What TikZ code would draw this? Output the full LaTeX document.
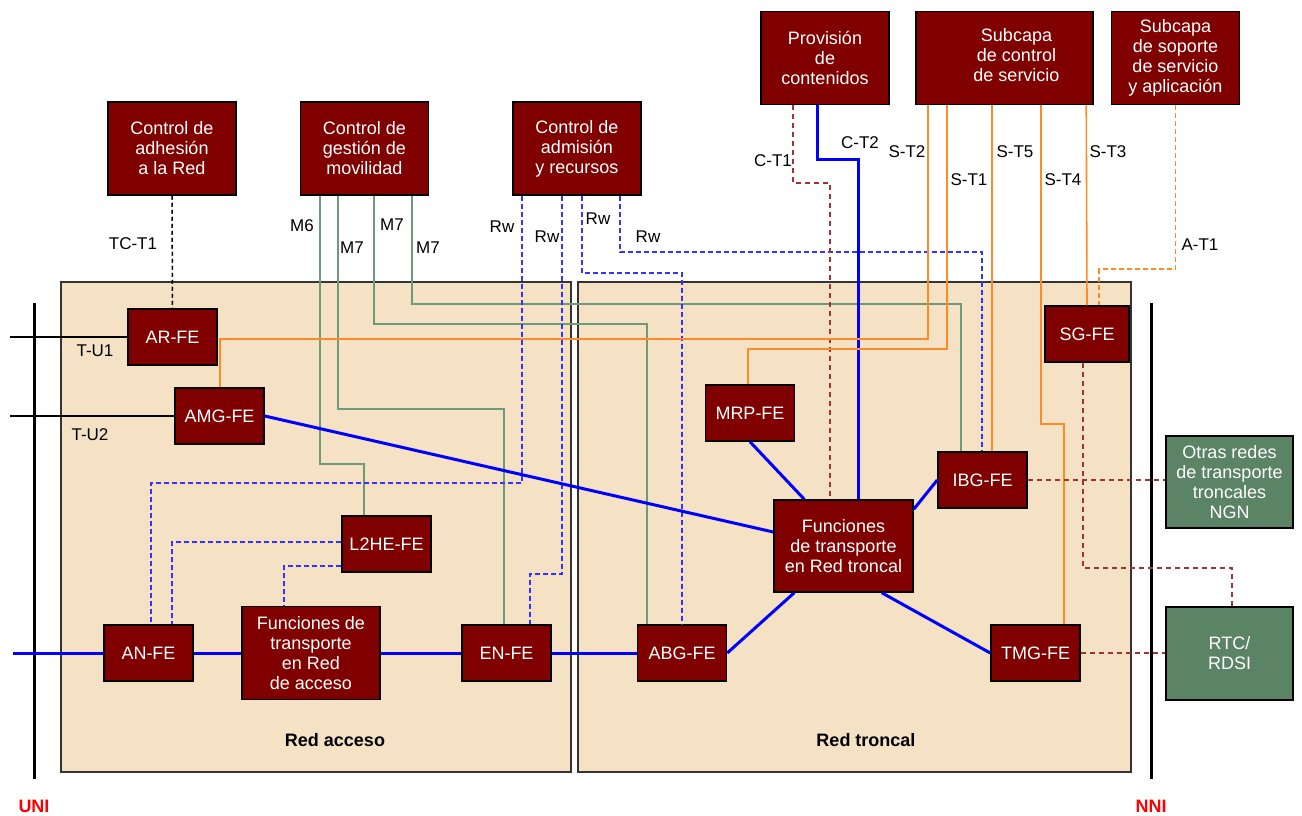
\documentclass[tikz,border=0pt]{standalone}
\usepackage{fontspec}
\setmainfont{Liberation Sans}

\definecolor{maroonbox}{HTML}{800000}
\definecolor{tanbg}{HTML}{F5E1C3}
\definecolor{greenbox}{HTML}{5B8467}
\definecolor{greenline}{HTML}{6F9A7A}
\definecolor{orangeline}{HTML}{FF8A2A}
\definecolor{bluedash}{HTML}{3333FF}
\definecolor{reddash}{HTML}{A03333}

\begin{document}
\begin{tikzpicture}[x=1pt, y=-1pt,
	fe/.style={draw=black, line width=1.5pt, fill=maroonbox, text=white, align=center, inner sep=0pt, font=\fontsize{18}{20}\selectfont},
	topbox/.style={fe, minimum width=128pt, minimum height=93pt},
	smallfe/.style={fe, minimum width=89pt, minimum height=56pt},
	ext/.style={fe, fill=greenbox},
	region/.style={draw=black!80, line width=1.5pt, fill=tanbg},
	lbl/.style={font=\fontsize{17}{20}\selectfont, inner sep=0pt},
	mline/.style={greenline, line width=1.6pt},
	sline/.style={orangeline, line width=1.6pt},
	rwline/.style={bluedash, line width=1.6pt, dash pattern=on 5pt off 3pt},
	ctline/.style={reddash, line width=1.6pt, dash pattern=on 5pt off 4pt},
	tline/.style={blue, line width=3pt}]

	\useasboundingbox (0,0) rectangle (1302,816);

	% access and core networks
	\draw[region] (61,282) rectangle (571,772);
	\draw[region] (578,282) rectangle (1131,772);
	\node[font=\bfseries\fontsize{18}{20}\selectfont] (acclbl) at (335,740) {Red acceso};
	\node[font=\bfseries\fontsize{18}{20}\selectfont] (corelbl) at (866,740) {Red troncal};

	% UNI / NNI
	\coordinate (unitop) at (34,303);
	\coordinate (nnitop) at (1151,303);
	\draw[line width=3pt] (unitop) -- ++(0,476);
	\draw[line width=3pt] (nnitop) -- ++(0,476);
	\node[font=\bfseries\fontsize{18}{20}\selectfont, text=red, inner sep=0pt] (unilbl) at (34,806) {UNI};
	\node[font=\bfseries\fontsize{18}{20}\selectfont, text=red, inner sep=0pt] (nnilbl) at (1151,806) {NNI};

	% control functions
	\node[topbox] (adh) at (172,148.5) {Control de\\adhesión\\a la Red};
	\node[topbox] (gest) at (364.5,148.5) {Control de\\gestión de\\movilidad};
	\node[topbox] (adm) at (577,148.5) {Control de\\admisión\\y recursos};
	\node[topbox] (prov) at (825,58) {Provisión\\de\\contenidos};
	\node[topbox, minimum width=177pt] (sub) at (1004.5,58)
		{\hspace*{24pt}\begin{tabular}{@{}c@{}}Subcapa\\de control\\de servicio\end{tabular}};
	\node[topbox] (sop) at (1175.5,58) {Subcapa\\de soporte\\de servicio\\y aplicación};

	% transport functions
	\node[smallfe] (arfe) at (172.5,337) {AR-FE};
	\node[smallfe] (amg) at (219.5,416) {AMG-FE};
	\node[smallfe] (l2he) at (386.5,544) {L2HE-FE};
	\node[smallfe] (anfe) at (148.5,653) {AN-FE};
	\node[fe, minimum width=138pt, minimum height=93pt] (fa) at (311,653) {Funciones de\\transporte\\en Red\\de acceso};
	\node[smallfe] (enfe) at (506.5,653) {EN-FE};
	\node[smallfe] (abg) at (682,653) {ABG-FE};
	\node[smallfe] (mrp) at (750,413) {MRP-FE};
	\node[fe, minimum width=139pt, minimum height=92pt] (ft) at (843.5,546) {Funciones\\de transporte\\en Red troncal};
	\node[smallfe] (ibg) at (982.5,480) {IBG-FE};
	\node[smallfe, minimum width=84pt] (sg) at (1087,334) {SG-FE};
	\node[smallfe] (tmg) at (1035.5,653) {TMG-FE};
	\node[ext, minimum width=127pt, minimum height=92pt] (otras) at (1229.5,482) {Otras redes\\de transporte\\troncales\\NGN};
	\node[ext, minimum width=127pt, minimum height=93pt] (rtc) at (1229.5,653.5) {RTC/\\RDSI};

	% user interfaces
	\coordinate (tu1) at (10,337);
	\coordinate (tu2) at (10,416);
	\coordinate (accin) at (13,653);
	\draw[line width=1.5pt] (tu1) -- (tu1 -| arfe.west);
	\draw[line width=1.5pt] (tu2) -- (tu2 -| amg.west);

	% attachment and mobility
	\draw[line width=1.5pt, dash pattern=on 4pt off 3pt] (adh.south) -- (arfe.north);
	\draw[mline] ([xshift=20pt]gest.south west) -- ++(0,268) -| ([xshift=23pt]l2he.north west);
	\draw[mline] ([xshift=38pt]gest.south west) -- ++(0,213) -| ([xshift=43pt]enfe.north west);
	\draw[mline] ([xshift=74pt]gest.south west) -- ++(0,128) -| ([xshift=10pt]abg.north west);
	\draw[mline] ([xshift=112pt]gest.south west) -- ++(0,108) -| ([xshift=24pt]ibg.north west);

	% resources (Rw)
	\draw[rwline] ([xshift=10pt]adm.south west) -- ++(0,287) -| ([xshift=48pt]anfe.north west);
	\draw[rwline] ([xshift=50pt]adm.south west) -- ++(0,378) -| ([xshift=69pt]enfe.north west);
	\draw[rwline] ([xshift=70pt]adm.south west) -- ++(0,77) -| (abg.north);
	\draw[rwline] ([xshift=108pt]adm.south west) -- ++(0,56) -| ([xshift=45pt]ibg.north west);
	\draw[rwline] ([yshift=2pt]l2he.west) -| ([xshift=69pt]anfe.north west);
	\draw[rwline] ([yshift=7pt]l2he.south west) -| ([xshift=43pt]fa.north west);

	% transport
	\draw[tline] (accin) -- (anfe) (anfe) -- (fa) (fa) -- (enfe) (enfe) -- (abg);
	\draw[tline] (amg.east) -- ([yshift=14pt]ft.west);
	\draw[tline] (mrp.south) -- ([xshift=31pt]ft.north west);
	\draw[tline] (ibg.west) -- ([yshift=-10pt]ft.north east);
	\draw[tline] (abg.east) -- ([xshift=21pt]ft.south west);
	\draw[tline] ([xshift=-32pt]ft.south east) -- (tmg.west);
	\draw[tline] ([xshift=57pt]prov.south west) -- ++(0,54) -| ([xshift=85pt]ft.north west);
	\draw[ctline] ([xshift=33pt]prov.south west) -- ++(0,78) -| ([xshift=57pt]ft.north west);

	% service control
	\draw[sline] ([xshift=13pt]sub.south west) -- ++(0,234) -| ([xshift=46pt]amg.north west);
	\draw[sline] ([xshift=32pt]sub.south west) -- ++(0,244) -| ([xshift=43pt]mrp.north west);
	\draw[sline] ([xshift=77pt]sub.south west) -- ([xshift=55pt]ibg.north west);
	\draw[sline] ([xshift=126pt]sub.south west) -- ++(0,319) -| ([xshift=74pt]tmg.north west);
	\draw[sline] ([xshift=171pt]sub.south west) -- (sg.north);
	\draw[sline, dash pattern=on 5pt off 3pt] (sop.south) -- ++(0,164) -| ([xshift=55pt]sg.north west);

	% other networks
	\draw[ctline] ([xshift=39pt]sg.south west) -- ++(0,205) -| ([xshift=67pt]rtc.north west);
	\draw[ctline] (ibg.east) -- (ibg.east -| otras.west);
	\draw[ctline] (tmg.east) -- (tmg.east -| rtc.west);

	% reference points
	\foreach \t/\x/\y [count=\i] in {TC-T1/133/244, M6/302/226, M7/352/248, M7/392/225, M7/428/248,
		Rw/502/227, Rw/547/237, Rw/598/219, Rw/648/237, C-T1/773/161, C-T2/860/143,
		S-T2/907/152, S-T1/969/180, S-T5/1015/152, S-T4/1063/180, S-T3/1108/152,
		A-T1/1200/245, T-U1/95/351, T-U2/90/435}
		\node[lbl] (lab\i) at (\x,\y) {\t};
\end{tikzpicture}
\end{document}
